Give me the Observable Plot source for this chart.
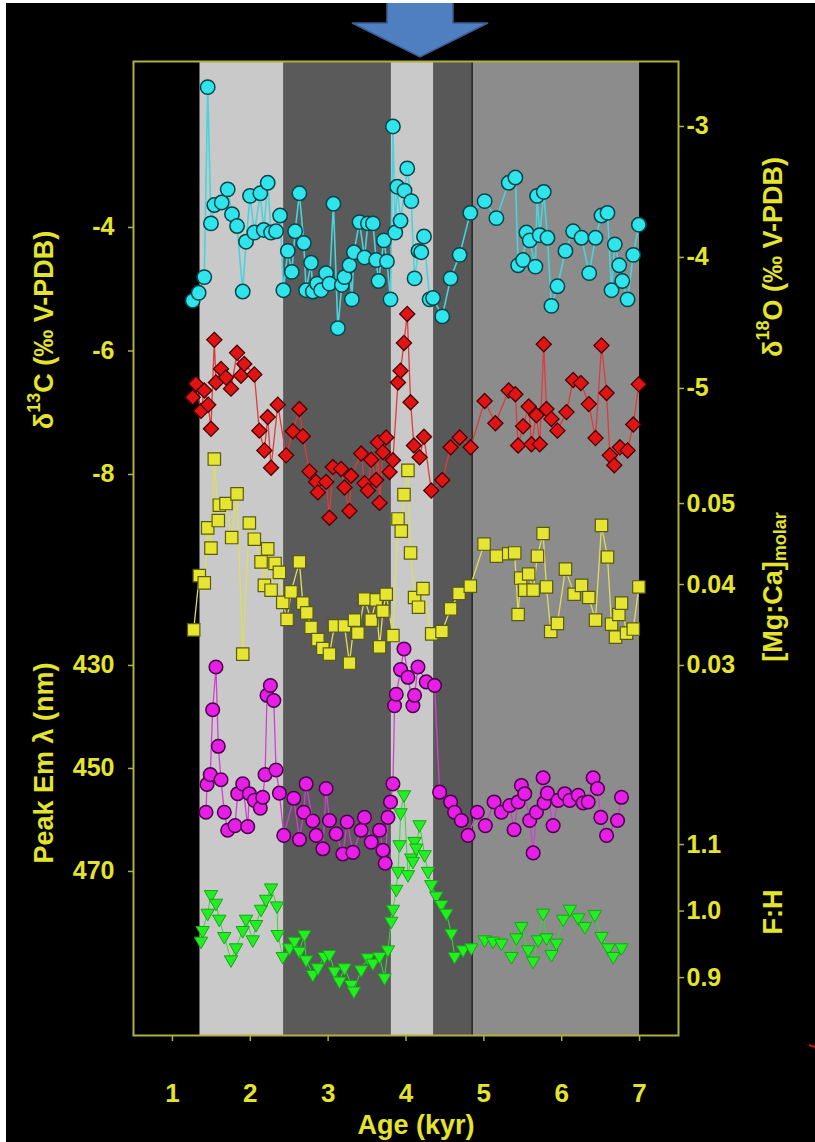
<!DOCTYPE html>
<html><head><meta charset="utf-8">
<script src="https://cdn.jsdelivr.net/npm/d3@7"></script>
<script src="https://cdn.jsdelivr.net/npm/@observablehq/plot@0.6"></script>
<style>
html,body{margin:0;padding:0;background:#000;}
#wrap{position:relative;width:815px;height:1142px;overflow:hidden;background:#000;border-left:6px solid #fff;border-top:3px solid #fff;box-sizing:border-box;}
#chart{position:absolute;left:0;top:0;width:809px;height:1139px;}
#chart svg{max-width:none !important;}
#overlay{position:absolute;left:-6px;top:-3px;pointer-events:none;}
</style></head>
<body><div id="wrap"><div id="chart"></div><svg id="overlay" width="815" height="1142"></svg></div>
<script>
// ---- axes definitions ----
const xDomain = [0.5, 7.5];
const xTicks = [1, 2, 3, 4, 5, 6, 7];
// value at bottom / top of the frame for each stacked axis
const o18Span = [-9.94, -2.504];
const c13Span = [-17.085, -1.312];
const mgSpan = [-0.0157, 0.1046];
const emSpan = [501.85, 312.74];
const fhSpan = [0.813, 2.277];
const o18Ticks = [-3, -4, -5];
const c13Ticks = [-4, -6, -8];
const mgTicks = [0.05, 0.04, 0.03];
const emTicks = [430, 450, 470];
const fhTicks = [1.1, 1.0, 0.9];

// ---- climate intervals (kyr) ----
const bandStart = [1.354, 2.434, 3.81, 4.36, 4.85];
const bandEnd = [2.434, 3.81, 4.36, 4.85, 7.0];
const bandShade = ["#c9c9c9", "#5a5a5a", "#c9c9c9", "#585858", "#8c8c8c"];
const bandEdges = [4.85];

// ---- series: [age kyr, value] ----
const o18 = [[1.26,-4.33],[1.337,-4.27],[1.409,-4.15],[1.453,-2.70],[1.495,-3.74],[1.538,-3.60],[1.633,-3.58],[1.71,-3.48],[1.765,-3.67],[1.83,-3.76],[1.903,-4.26],[1.945,-3.88],[1.997,-3.53],[2.052,-3.81],[2.129,-3.51],[2.173,-3.79],[2.224,-3.43],[2.267,-3.81],[2.331,-3.80],[2.383,-3.68],[2.425,-4.25],[2.482,-3.95],[2.533,-4.11],[2.576,-3.80],[2.631,-3.51],[2.687,-3.89],[2.717,-4.25],[2.781,-4.04],[2.803,-4.26],[2.859,-4.20],[2.91,-4.25],[2.974,-4.12],[3.017,-4.20],[3.068,-3.59],[3.125,-4.54],[3.176,-4.21],[3.21,-4.15],[3.274,-4.06],[3.305,-4.32],[3.331,-3.96],[3.403,-3.73],[3.467,-4.00],[3.511,-3.74],[3.575,-3.74],[3.617,-4.02],[3.647,-4.18],[3.716,-3.87],[3.755,-4.03],[3.801,-4.32],[3.832,-3.00],[3.862,-3.81],[3.887,-3.46],[3.93,-3.72],[3.981,-3.49],[4.016,-3.32],[4.068,-3.57],[4.11,-4.16],[4.161,-3.95],[4.196,-3.96],[4.231,-3.84],[4.303,-4.32],[4.347,-4.31],[4.466,-4.45],[4.573,-4.16],[4.689,-3.98],[4.826,-3.66],[5.01,-3.57],[5.161,-3.70],[5.319,-3.43],[5.405,-3.39],[5.44,-4.06],[5.504,-4.02],[5.547,-3.81],[5.589,-3.87],[5.662,-4.07],[5.684,-3.53],[5.718,-3.83],[5.769,-3.50],[5.817,-3.85],[5.868,-4.37],[5.945,-4.22],[6.048,-3.95],[6.147,-3.80],[6.254,-3.85],[6.353,-4.12],[6.434,-3.85],[6.511,-3.68],[6.588,-3.66],[6.64,-4.25],[6.682,-3.90],[6.739,-4.06],[6.778,-4.18],[6.846,-4.32],[6.919,-3.98],[6.991,-3.75]];

const c13 = [[1.26,-6.75],[1.302,-6.53],[1.367,-6.97],[1.409,-6.64],[1.46,-6.87],[1.495,-7.26],[1.538,-5.82],[1.559,-6.51],[1.624,-6.29],[1.688,-6.43],[1.752,-6.61],[1.83,-6.03],[1.881,-6.40],[1.923,-6.21],[2.052,-6.38],[2.116,-7.29],[2.181,-7.61],[2.224,-7.07],[2.267,-7.89],[2.353,-6.87],[2.46,-7.69],[2.546,-7.30],[2.631,-6.94],[2.675,-7.38],[2.76,-7.95],[2.846,-8.12],[2.868,-8.29],[2.974,-8.12],[3.017,-8.70],[3.06,-7.88],[3.167,-7.91],[3.21,-8.21],[3.274,-8.59],[3.296,-8.02],[3.424,-7.66],[3.467,-8.14],[3.511,-8.26],[3.553,-7.76],[3.617,-8.09],[3.639,-7.48],[3.66,-8.46],[3.704,-7.64],[3.746,-7.40],[3.789,-7.96],[3.832,-7.77],[3.897,-6.51],[3.93,-6.32],[3.974,-5.87],[4.016,-5.40],[4.059,-6.83],[4.102,-7.53],[4.174,-7.72],[4.231,-7.39],[4.325,-8.26],[4.466,-8.09],[4.573,-7.56],[4.689,-7.40],[4.83,-7.56],[5.01,-6.81],[5.148,-7.17],[5.319,-6.64],[5.405,-6.70],[5.44,-7.53],[5.504,-7.22],[5.576,-6.90],[5.611,-7.51],[5.675,-7.04],[5.718,-7.51],[5.769,-5.89],[5.804,-6.94],[5.868,-7.10],[5.945,-7.29],[6.061,-6.99],[6.147,-6.47],[6.245,-6.52],[6.348,-6.86],[6.434,-7.41],[6.511,-5.91],[6.576,-6.68],[6.618,-7.69],[6.675,-7.85],[6.747,-7.56],[6.846,-7.61],[6.919,-7.19],[6.991,-6.54]];

const mgca = [[1.273,0.0344],[1.345,0.0411],[1.409,0.0402],[1.453,0.0470],[1.495,0.0445],[1.538,0.0555],[1.589,0.0479],[1.602,0.0498],[1.688,0.0500],[1.761,0.0458],[1.83,0.0512],[1.903,0.0314],[1.988,0.0476],[2.052,0.0456],[2.138,0.0428],[2.181,0.0399],[2.224,0.0444],[2.267,0.0393],[2.318,0.0426],[2.374,0.0415],[2.417,0.0378],[2.473,0.0357],[2.524,0.0391],[2.631,0.0428],[2.675,0.0377],[2.726,0.0365],[2.781,0.0347],[2.868,0.0332],[2.932,0.0321],[3.017,0.0314],[3.081,0.0349],[3.21,0.0349],[3.274,0.0303],[3.338,0.0356],[3.382,0.0340],[3.467,0.0382],[3.553,0.0356],[3.617,0.0381],[3.66,0.0323],[3.704,0.0367],[3.746,0.0388],[3.832,0.0337],[3.897,0.0481],[3.939,0.0466],[3.974,0.0511],[4.025,0.0541],[4.059,0.0439],[4.11,0.0384],[4.161,0.0372],[4.218,0.0395],[4.33,0.0339],[4.462,0.0342],[4.573,0.0370],[4.681,0.0389],[4.826,0.0398],[5.003,0.0450],[5.161,0.0435],[5.319,0.0438],[5.396,0.0439],[5.44,0.0363],[5.473,0.0408],[5.525,0.0393],[5.576,0.0413],[5.633,0.0393],[5.688,0.0435],[5.761,0.0463],[5.804,0.0397],[5.859,0.0342],[5.945,0.0352],[6.048,0.0419],[6.16,0.0388],[6.254,0.0399],[6.348,0.0384],[6.434,0.0356],[6.511,0.0473],[6.588,0.0434],[6.64,0.0351],[6.691,0.0335],[6.734,0.0363],[6.768,0.0377],[6.833,0.0340],[6.919,0.0345],[6.991,0.0397]];

const peakEm = [[1.431,458.5],[1.444,453.1],[1.486,451.2],[1.517,438.6],[1.559,430.3],[1.589,445.7],[1.624,452.2],[1.666,458.5],[1.71,462.0],[1.804,461.1],[1.839,454.9],[1.903,453.0],[1.967,461.3],[1.988,454.9],[2.052,456.2],[2.129,457.7],[2.16,455.6],[2.19,451.2],[2.215,435.8],[2.258,433.9],[2.302,436.8],[2.331,450.3],[2.374,454.8],[2.43,463.0],[2.559,455.8],[2.631,463.8],[2.687,458.5],[2.717,453.0],[2.803,460.2],[2.846,463.0],[2.932,465.6],[2.974,453.9],[3.017,460.1],[3.103,462.7],[3.189,466.6],[3.244,460.4],[3.318,466.3],[3.424,462.0],[3.467,459.5],[3.553,464.3],[3.66,462.0],[3.704,465.9],[3.733,468.4],[3.768,459.5],[3.801,456.5],[3.832,453.0],[3.853,437.8],[3.875,435.6],[3.93,430.8],[3.974,426.8],[4.025,432.3],[4.089,437.8],[4.11,435.8],[4.154,430.3],[4.26,433.2],[4.367,433.9],[4.432,454.6],[4.573,456.5],[4.624,458.5],[4.711,460.1],[4.797,463.0],[4.916,458.5],[5.019,461.1],[5.131,456.5],[5.225,458.5],[5.332,457.2],[5.388,461.9],[5.44,456.5],[5.482,453.3],[5.525,454.9],[5.589,460.1],[5.633,466.4],[5.675,458.5],[5.761,451.8],[5.774,456.7],[5.817,454.8],[5.89,461.1],[5.954,456.2],[6.039,454.9],[6.104,456.2],[6.212,455.2],[6.276,456.7],[6.34,456.5],[6.404,451.8],[6.46,453.9],[6.502,459.5],[6.576,463.0],[6.717,460.1],[6.768,455.6]];

const fh = [[1.367,0.955],[1.388,0.971],[1.453,0.997],[1.495,1.025],[1.559,1.012],[1.602,0.988],[1.666,0.962],[1.752,0.927],[1.817,0.945],[1.903,0.971],[1.945,0.988],[2.032,0.957],[2.074,0.980],[2.138,1.003],[2.203,1.018],[2.267,1.035],[2.344,1.008],[2.353,0.965],[2.417,0.932],[2.502,0.945],[2.567,0.955],[2.631,0.940],[2.695,0.965],[2.717,0.927],[2.803,0.905],[2.868,0.915],[2.952,0.932],[3.017,0.935],[3.081,0.910],[3.145,0.895],[3.21,0.915],[3.296,0.890],[3.331,0.880],[3.424,0.912],[3.511,0.930],[3.575,0.922],[3.66,0.932],[3.724,0.900],[3.768,0.942],[3.81,0.985],[3.832,1.003],[3.875,1.033],[3.897,1.060],[3.917,1.100],[3.93,1.148],[3.974,1.175],[4.025,1.055],[4.068,1.080],[4.089,1.075],[4.11,1.105],[4.132,1.095],[4.174,1.130],[4.239,1.085],[4.282,1.060],[4.325,1.040],[4.389,1.023],[4.453,1.010],[4.518,0.997],[4.582,0.967],[4.624,0.932],[4.733,0.942],[4.839,0.945],[5.01,0.957],[5.118,0.955],[5.225,0.952],[5.354,0.932],[5.418,0.960],[5.482,0.977],[5.569,0.942],[5.633,0.925],[5.697,0.957],[5.761,0.997],[5.804,0.960],[5.868,0.935],[5.932,0.952],[6.019,0.988],[6.104,1.003],[6.212,0.990],[6.297,0.977],[6.425,0.995],[6.511,0.962],[6.598,0.945],[6.662,0.932],[6.768,0.945]];

// ---- styling ----
const textColor = "#e4e42c";
const frameColor = "#b0b03a";
const font = "'Liberation Sans', Arial, sans-serif";

const sO = d3.scaleLinear(o18Span, [0, 1]);
const sC = d3.scaleLinear(c13Span, [0, 1]);
const sM = d3.scaleLinear(mgSpan, [0, 1]);
const sE = d3.scaleLinear(emSpan, [0, 1]);
const sF = d3.scaleLinear(fhSpan, [0, 1]);

const rows = (pairs) => pairs.map(([age, v]) => ({age, v}));
const bands = bandStart.map((s, i) => ({s, e: bandEnd[i], c: bandShade[i]}));

const triDown = {
  draw(ctx, size) {
    const R = Math.sqrt(size) * 0.78;
    ctx.moveTo(0, R);
    ctx.lineTo(R * 0.866, -R / 2);
    ctx.lineTo(-R * 0.866, -R / 2);
    ctx.closePath();
  }
};

function series(pairs, s, lineColor, lineWidth, dotOpts) {
  const data = rows(pairs);
  return [
    Plot.line(data, {x: "age", y: d => s(d.v), stroke: lineColor, strokeWidth: lineWidth}),
    Plot.dot(data, {x: "age", y: d => s(d.v), ...dotOpts})
  ];
}

function yAxis(anchor, ticks, s, fmt) {
  const pos = ticks.map(t => s(t));
  const lab = new Map(pos.map((p, i) => [p, fmt(ticks[i])]));
  return Plot.axisY({
    anchor, ticks: pos, tickFormat: p => lab.get(p),
    tickSize: 5, tickPadding: anchor === "left" ? 14 : 3,
    stroke: frameColor, strokeWidth: 1.5, color: textColor,
    fontSize: 25, fontWeight: "bold", label: null
  });
}

const chart = Plot.plot({
  width: 809, height: 1139,
  marginLeft: 127, marginRight: 137, marginTop: 58, marginBottom: 107,
  style: {background: "black", fontFamily: font, color: textColor, maxWidth: "none"},
  x: {domain: xDomain},
  y: {domain: [0, 1], axis: null},
  color: {type: "identity"},
  marks: [
    Plot.rect(bands, {x1: "s", x2: "e", fill: "c"}),
    Plot.ruleX(bandEdges, {stroke: "#262626", strokeWidth: 1.5}),
    ...series(fh, sF, "#38d838", 1, {symbol: triDown, r: 5.6, fill: "#22ee22", stroke: "#14a814", strokeWidth: 1}),
    ...series(peakEm, sE, "#d040d0", 1.3, {symbol: "circle", r: 6.8, fill: "#e61ee6", stroke: "#4a004a", strokeWidth: 1.5}),
    ...series(mgca, sM, "#dede5a", 1.3, {symbol: "square", r: 7.0, fill: "#e6e632", stroke: "#5a5a10", strokeWidth: 1.2}),
    ...series(c13, sC, "#e03a3a", 1.3, {symbol: "diamond2", r: 6.8, fill: "#e01414", stroke: "#4a0000", strokeWidth: 1.3}),
    ...series(o18, sO, "#48d4dc", 1.6, {symbol: "circle", r: 7.2, fill: "#30e4ec", stroke: "#06444a", strokeWidth: 1.5}),
    Plot.frame({stroke: frameColor, strokeWidth: 2}),
    Plot.axisX({ticks: xTicks, tickFormat: d => String(d), tickSize: 6, tickPadding: 42,
      stroke: frameColor, strokeWidth: 1.5, color: textColor, fontSize: 26, fontWeight: "bold", label: null}),
    yAxis("left", c13Ticks, sC, d => String(d)),
    yAxis("left", emTicks, sE, d => String(d)),
    yAxis("right", o18Ticks, sO, d => String(d)),
    yAxis("right", mgTicks, sM, d => d.toFixed(2)),
    yAxis("right", fhTicks, sF, d => d.toFixed(1))
  ]
});
document.getElementById("chart").appendChild(chart);

// ---- axis titles and arrow (overlay, page coordinates) ----
const ov = d3.select("#overlay");
function title(x, y, rot, parts) {
  const t = ov.append("text")
    .attr("transform", `translate(${x},${y}) rotate(${rot})`)
    .attr("text-anchor", "middle").attr("dominant-baseline", "central")
    .attr("fill", textColor).attr("font-family", font)
    .attr("font-weight", "bold").attr("font-size", 27);
  parts.forEach(p => {
    const ts = t.append("tspan").text(p.t);
    if (p.sup) ts.attr("font-size", 18).attr("dy", -10);
    if (p.sub) ts.attr("font-size", 18).attr("dy", 7);
    if (p.back) ts.attr("dy", p.back);
  });
}
title(44, 330, -90, [{t: "δ"}, {t: "13", sup: true}, {t: "C (‰ V-PDB)", back: 10}]);
title(44, 763, -90, [{t: "Peak Em λ (nm)"}]);
title(773, 257, -90, [{t: "δ"}, {t: "18", sup: true}, {t: "O (‰ V-PDB)", back: 10}]);
title(773, 587, -90, [{t: "[Mg:Ca]"}, {t: "molar", sub: true}]);
title(773, 912, -90, [{t: "F:H"}]);
title(416, 1125, 0, [{t: "Age (kyr)"}]);

ov.append("polygon")
  .attr("points", "387,0 453,0 453,23 488,23 420,57 352,23 387,23")
  .attr("fill", "#4f7fc0").attr("stroke", "#3a5e8e").attr("stroke-width", 1.5);
ov.append("line").attr("x1", 809).attr("x2", 815).attr("y1", 1045).attr("y2", 1047)
  .attr("stroke", "#d01010").attr("stroke-width", 2);
</script>
</body></html>
